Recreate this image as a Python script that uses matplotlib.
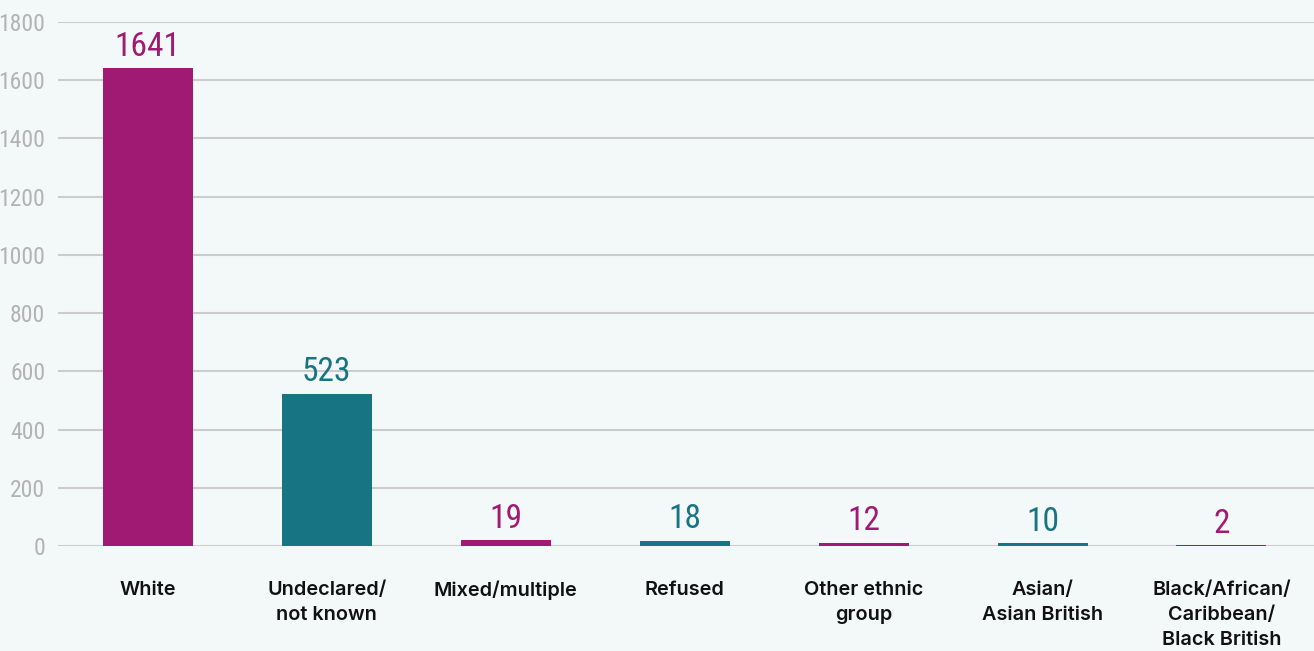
import matplotlib
matplotlib.use("Agg")
import matplotlib.pyplot as plt
from matplotlib import font_manager

categories = ["White", "Undeclared/\nnot known", "Mixed/multiple", "Refused",
              "Other ethnic\ngroup", "Asian/\nAsian British",
              "Black/African/\nCaribbean/\nBlack British"]
values = [1641, 523, 19, 18, 12, 10, 2]
yticks = [0, 200, 400, 600, 800, 1000, 1200, 1400, 1600, 1800]

MAGENTA = "#A01A73"
TEAL = "#177482"
BG = "#F3F8F8"
colors = [MAGENTA if i % 2 == 0 else TEAL for i in range(len(values))]

# pick a narrow face for the numbers if one is installed
names = {f.name for f in font_manager.fontManager.ttflist}
narrow = "DejaVu Sans"
for cand in ["Roboto Condensed", "Liberation Sans Narrow", "DejaVu Sans Condensed"]:
    if cand in names:
        narrow = cand
        break
label_font = "Inter" if "Inter" in names else "DejaVu Sans"

fig = plt.figure(figsize=(13.14, 6.51), dpi=100, facecolor=BG)
ax = fig.add_axes([0.044, 0.1613, 0.956, 0.8049], facecolor=BG)

x = range(len(values))
bars = ax.bar(x, values, width=0.503, color=colors, zorder=3)

for b, v, c in zip(bars, values, colors):
    ax.annotate(str(v), (b.get_x() + b.get_width() / 2, v),
                xytext=(0, 4), textcoords="offset points",
                ha="center", va="bottom", color=c,
                fontsize=24, family=narrow, fontstretch="condensed")

ax.set_ylim(0, 1800)
ax.set_xlim(-0.503, 6.517)
ax.set_yticks(yticks)
ax.set_yticklabels([str(t) for t in yticks], family=narrow,
                   fontstretch="condensed", fontsize=17, color="#B3B3B3")
ax.grid(axis="y", color="#CCCCCC", linewidth=1.5, zorder=0)
ax.set_xticks(list(x))
ax.set_xticklabels(categories, family=label_font, fontweight="semibold",
                   fontsize=14.3, color="#111111", linespacing=1.5)
ax.tick_params(axis="x", length=0, pad=25)
ax.tick_params(axis="y", length=0, pad=9)
for s in ax.spines.values():
    s.set_visible(False)

fig.savefig("out.png", dpi=100, facecolor=BG)
